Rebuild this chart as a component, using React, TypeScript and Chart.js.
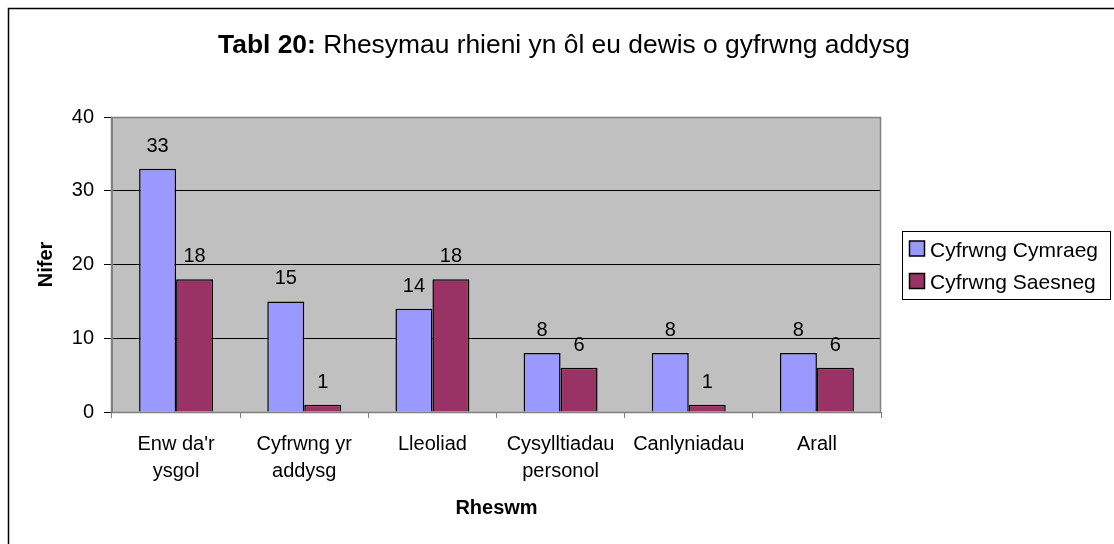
import React, { useEffect, useRef } from 'react';
import { Chart, registerables } from 'chart.js';

Chart.register(...registerables);

const categories: (string | string[])[] = [
  ["Enw da'r", 'ysgol'],
  ['Cyfrwng yr', 'addysg'],
  'Lleoliad',
  ['Cysylltiadau', 'personol'],
  'Canlyniadau',
  'Arall',
];
const cymraegValues = [33, 15, 14, 8, 8, 8];
const saesnegValues = [18, 1, 18, 6, 1, 6];
const seriesLabels = ['Cyfrwng Cymraeg', 'Cyfrwng Saesneg'];
const seriesColors = ['#9999FF', '#993366'];
const titleBold = 'Tabl 20:';
const titleRest = ' Rhesymau rhieni yn ôl eu dewis o gyfrwng addysg';
const xTitle = 'Rheswm';
const yTitle = 'Nifer';
const yMin = 0;
const yMax = 40;
const yStep = 10;

const FONT = '"Liberation Sans", Arial, sans-serif';

const decorPlugin = {
  id: 'decor',
  beforeDraw(chart: any) {
    const { ctx, chartArea: a } = chart;
    ctx.save();
    ctx.fillStyle = '#ffffff';
    ctx.fillRect(0, 0, chart.width, chart.height);
    ctx.fillStyle = '#C0C0C0';
    ctx.fillRect(a.left, a.top, a.right - a.left, a.bottom - a.top);
    ctx.restore();
  },
  beforeDatasetsDraw(chart: any) {
    const { ctx, chartArea: a } = chart;
    ctx.save();
    ctx.strokeStyle = '#808080';
    ctx.lineWidth = 1.5;
    ctx.strokeRect(Math.round(a.left) - 0.5, Math.round(a.top) + 0.5, Math.round(a.right - a.left), Math.round(a.bottom - a.top));
    ctx.restore();
  },
  afterDatasetsDraw(chart: any) {
    const { ctx } = chart;
    ctx.save();
    ctx.fillStyle = '#000';
    ctx.font = `20px ${FONT}`;
    ctx.textAlign = 'center';
    ctx.textBaseline = 'alphabetic';
    chart.data.datasets.forEach((ds: any, di: number) => {
      const meta = chart.getDatasetMeta(di);
      meta.data.forEach((el: any, i: number) => {
        ctx.fillText(String(ds.data[i]), el.x, el.y - 17);
      });
    });
    ctx.restore();
  },
  afterDraw(chart: any) {
    const { ctx, chartArea: a } = chart;
    ctx.save();
    // outer border
    ctx.strokeStyle = '#000';
    ctx.lineWidth = 1.5;
    ctx.strokeRect(8.5, 8.5, chart.width + 20, chart.height + 20);

    // title
    ctx.fillStyle = '#000';
    ctx.textBaseline = 'alphabetic';
    ctx.textAlign = 'left';
    ctx.font = `bold 26.4px ${FONT}`;
    const wb = ctx.measureText(titleBold).width;
    ctx.font = `26.4px ${FONT}`;
    const wr = ctx.measureText(titleRest).width;
    const cx = 564;
    const sx = cx - (wb + wr) / 2;
    ctx.font = `bold 26.4px ${FONT}`;
    ctx.fillText(titleBold, sx, 53);
    ctx.font = `26.4px ${FONT}`;
    ctx.fillText(titleRest, sx + wb, 53);

    // legend
    const bx = Math.round(a.right) + 21.5;
    const by = 231.5;
    ctx.lineWidth = 1;
    ctx.strokeStyle = '#000';
    ctx.strokeRect(bx, by, 208, 68);
    ctx.font = `21px ${FONT}`;
    chart.data.datasets.forEach((ds: any, i: number) => {
      const sy = by + 9.5 + i * 32.5;
      ctx.fillStyle = ds.backgroundColor;
      ctx.fillRect(bx + 7, sy, 15, 15);
      ctx.lineWidth = 1.5;
      ctx.strokeStyle = '#000';
      ctx.strokeRect(bx + 7, sy, 15, 15);
      ctx.fillStyle = '#000';
      ctx.fillText(ds.label, bx + 27.5, sy + 15.5);
    });
    ctx.restore();
  },
};

export default function App() {
  const ref = useRef<HTMLCanvasElement | null>(null);

  useEffect(() => {
    if (!ref.current) return;
    const chart = new Chart(ref.current, {
      type: 'bar',
      data: {
        labels: categories as any,
        datasets: [
          {
            label: seriesLabels[0],
            data: cymraegValues,
            backgroundColor: seriesColors[0],
            borderColor: '#000',
            borderWidth: 1.5,
            categoryPercentage: 0.577,
            barPercentage: 1,
          },
          {
            label: seriesLabels[1],
            data: saesnegValues,
            backgroundColor: seriesColors[1],
            borderColor: '#000',
            borderWidth: 1.5,
            categoryPercentage: 0.577,
            barPercentage: 1,
          },
        ],
      },
      options: {
        animation: false,
        responsive: false,
        devicePixelRatio: 1,
        layout: { padding: { left: 0, top: 117, right: 233, bottom: 0 } },
        plugins: {
          legend: { display: false },
          tooltip: { enabled: false },
          title: { display: false },
        },
        scales: {
          x: {
            type: 'category',
            grid: {
              offset: true,
              drawOnChartArea: false,
              tickLength: 6,
              color: '#808080',
            },
            border: { color: '#808080' },
            ticks: {
              color: '#000',
              font: { size: 20, family: FONT, lineHeight: 1.35 },
              padding: 13,
              maxRotation: 0,
              autoSkip: false,
            },
            title: {
              display: true,
              text: xTitle,
              color: '#000',
              font: { size: 20, weight: 'bold', family: FONT },
              padding: { top: 0, bottom: 24 },
            },
            afterFit: (s: any) => {
              s.height = 132;
            },
          },
          y: {
            min: yMin,
            max: yMax,
            grid: {
              tickLength: 8,
              color: (c: any) =>
                c.tick && (c.tick.value === yMin || c.tick.value === yMax) ? '#808080' : '#000',
              tickColor: '#000',
            },
            border: { color: '#808080' },
            ticks: {
              stepSize: yStep,
              color: '#000',
              font: { size: 20, family: FONT },
              padding: 10,
            },
            title: {
              display: true,
              text: yTitle,
              color: '#000',
              font: { size: 20, weight: 'bold', family: FONT },
              padding: { top: 34, bottom: 0 },
            },
            afterFit: (s: any) => {
              s.width = 112;
            },
          },
        },
      } as any,
      plugins: [decorPlugin],
    });
    return () => chart.destroy();
  }, []);

  return (
    <div style={{ position: 'absolute', left: 0, top: 0, width: 1114, height: 544 }}>
      <canvas ref={ref} width={1114} height={544} style={{ display: 'block' }} />
    </div>
  );
}
